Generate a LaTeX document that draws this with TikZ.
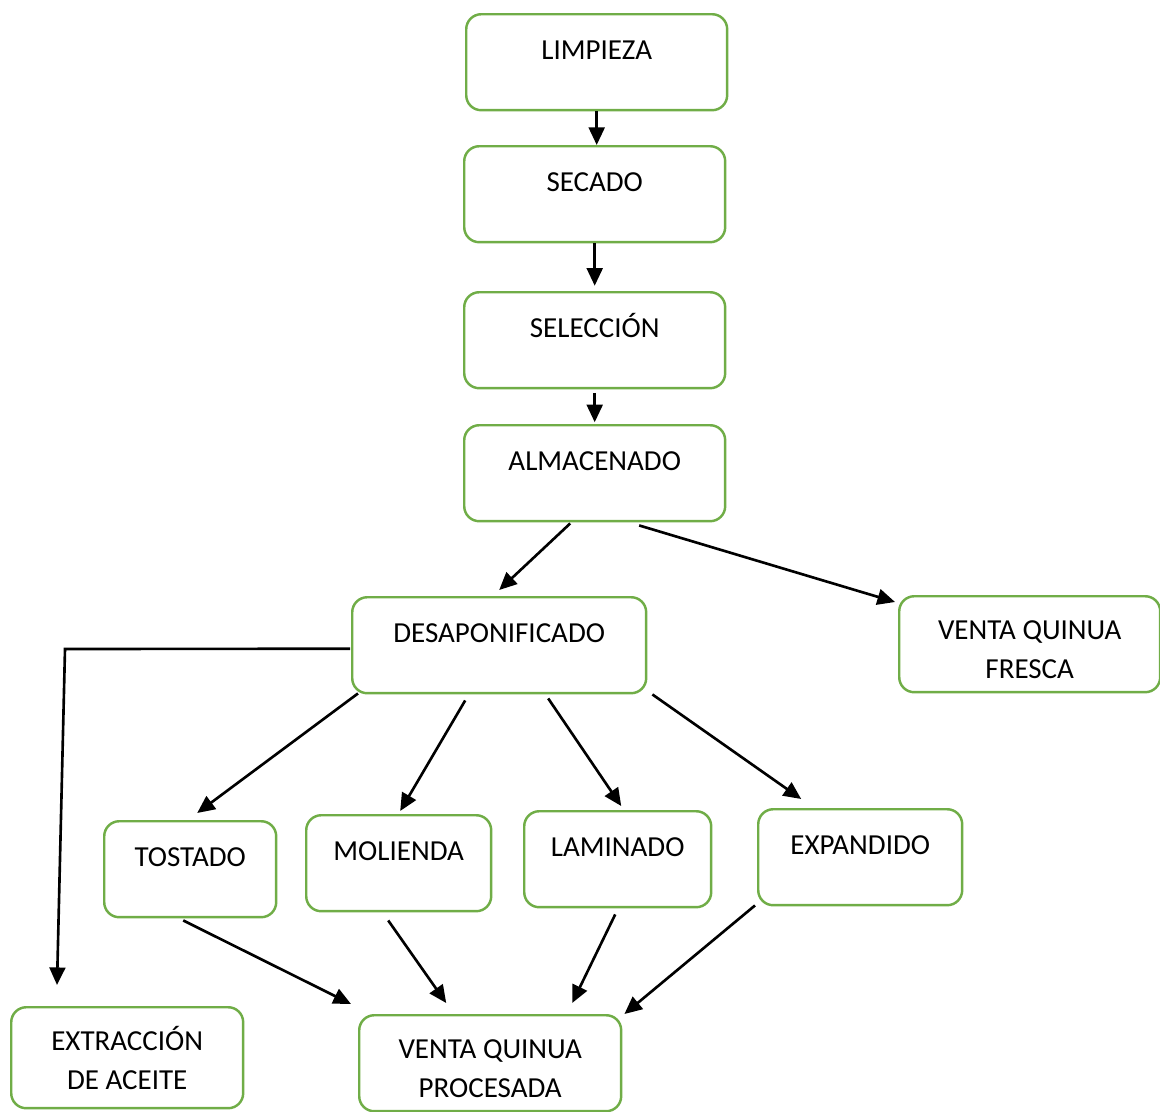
\documentclass[tikz,border=0pt]{standalone}
\usepackage{fontspec}
\setmainfont{Carlito}
\usepackage{tikz}
\usepackage{xcolor}
\usetikzlibrary{arrows.meta}
\usetikzlibrary{calc}
\definecolor{verde}{RGB}{112,173,71}
\tikzset{
	caja/.style={draw=verde, line width=1.4pt, rounded corners=0.3cm, anchor=north west,
		inner sep=0pt, font=\fontsize{16.5}{22}\selectfont},
	caja1/.style={caja, text height=0.91cm, text depth=1.01cm},
	caja2/.style={caja, align=center, minimum height=1.92cm},
	flecha/.style={-{Triangle[length=10pt,width=9pt]}, line width=1.5pt}
}

\begin{document}
\begin{tikzpicture}[x=0.02cm,y=-0.02cm]
		\useasboundingbox (0,0) rectangle (1160,1112);
		
		% etapas principales
		\node[caja1, minimum width=5.22cm] (limpieza) at (465,13) {LIMPIEZA};
		\node[caja1, minimum width=5.22cm] (secado) at (463,145) {SECADO};
		\node[caja1, minimum width=5.22cm] (seleccion) at (463,291) {SELECCIÓN};
		\node[caja1, minimum width=5.22cm] (almacenado) at (463,424) {ALMACENADO};
		\node[caja1, minimum width=5.88cm] (desap) at (351,596) {DESAPONIFICADO};
		\node[caja2, minimum width=5.22cm] (fresca) at (898,595) {\rule{0pt}{0.6cm}VENTA QUINUA\\FRESCA};
		
		% derivados
		\node[caja1, minimum width=3.44cm] (tostado) at (103,820) {TOSTADO};
		\node[caja1, minimum width=3.70cm] (molienda) at (305,814) {MOLIENDA};
		\node[caja1, minimum width=3.74cm] (laminado) at (523,810) {LAMINADO};
		\node[caja1, minimum width=4.08cm] (expandido) at (757,808) {EXPANDIDO};
		\node[caja2, minimum width=4.64cm, minimum height=2.02cm] (aceite) at (10,1006) {EXTRACCIÓN\\DE ACEITE};
		\node[caja2, minimum width=5.24cm] (procesada) at (358,1014) {\rule{0pt}{0.6cm}VENTA QUINUA\\PROCESADA};
		
		\draw[flecha] (limpieza.south) -- (limpieza.south |- secado.north);
		\draw[flecha, shorten >=3] (secado.south) -- (seleccion.north);
		\draw[flecha, shorten <=2, shorten >=1] (seleccion.south) -- (almacenado.north);
		\draw[flecha] ($(almacenado.south)+(-24.5,1)$) -- ($(desap.north)+(0,-6)$);
		\draw[flecha] ($(almacenado.south)+(44.5,3)$) -- ($(fresca.north west)+(-3,7)$);
		
		\coordinate (codo) at (65,649);
		\coordinate (fin) at ($(aceite.north west)+(47,-21)$);
		\draw[flecha] ($(desap.west)+(-1,3.5)$) -- (codo) -- (fin);
		
		\draw[flecha] ($(desap.south west)+(7,-1)$) -- ($(tostado.north)+(7,-7)$);
		\draw[flecha] ($(desap.south)+(-34,6)$) -- ($(molienda.north)+(1.5,-3)$);
		\draw[flecha] ($(desap.south)+(49,4)$) -- ($(laminado.north)+(3.5,-4)$);
		\draw[flecha] ($(desap.south east)+(5,0)$) -- ($(expandido.north)+(-59,-9)$);
		
		\draw[flecha] ($(tostado.south)+(-7,2)$) -- ($(procesada.north west)+(-7,-10)$);
		\draw[flecha] ($(molienda.south)+(-10.5,8)$) -- ($(procesada.north)+(-44,-11)$);
		\draw[flecha] ($(laminado.south)+(-2.5,6)$) -- ($(procesada.north)+(82,-11)$);
		\draw[flecha] ($(expandido.south west)+(-2,-1)$) -- ($(procesada.north east)+(2,0)$);
	\end{tikzpicture}
\end{document}
